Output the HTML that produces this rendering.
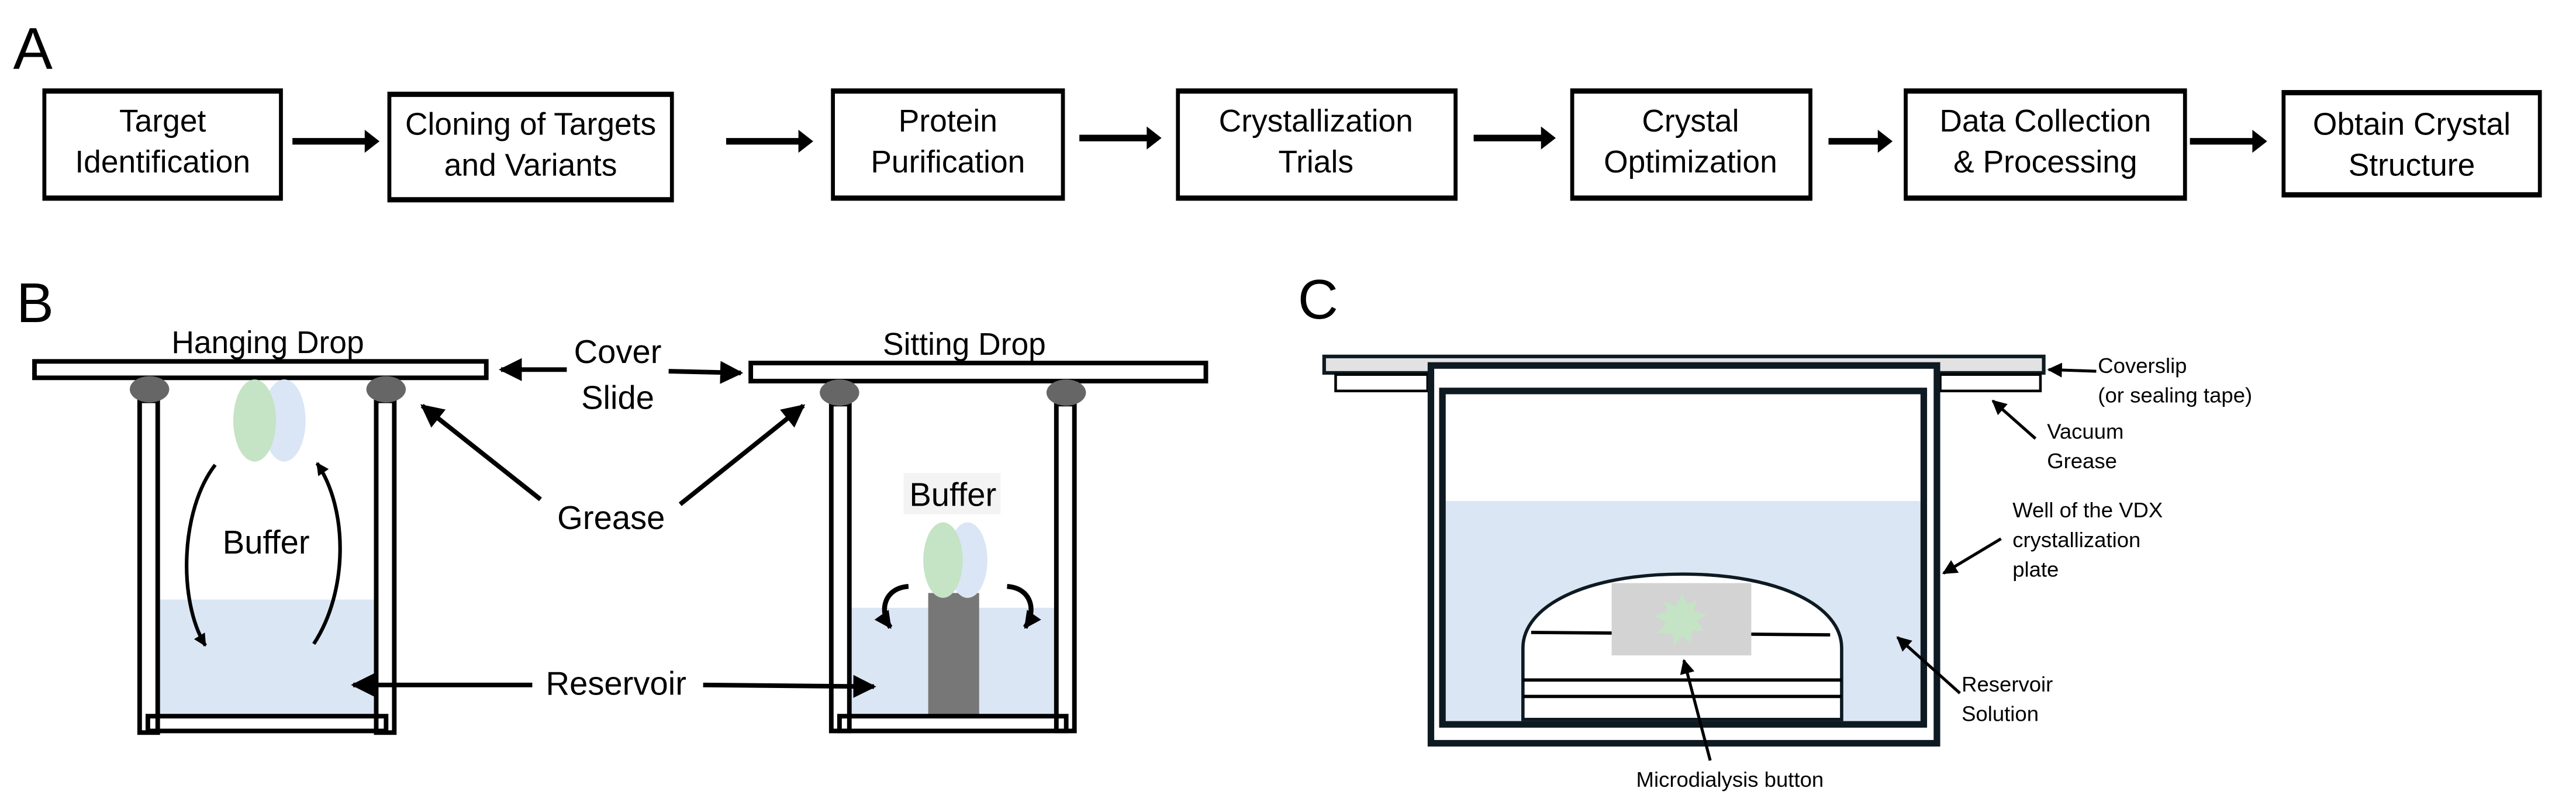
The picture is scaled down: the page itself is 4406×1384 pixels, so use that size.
<!DOCTYPE html>
<html><head><meta charset="utf-8"><style>
html,body{margin:0;padding:0;background:#fff;}
svg{display:block;}
text{font-family:"Liberation Sans",Arial,sans-serif;fill:#000;}
</style></head><body>
<svg width="4406" height="1384" viewBox="0 0 1568 492.5" xmlns="http://www.w3.org/2000/svg">
<defs>
<marker id="as" viewBox="0 0 10 10" refX="9" refY="5" markerWidth="5" markerHeight="5" orient="auto-start-reverse" markerUnits="strokeWidth"><path d="M0,0 L10,5 L0,10 z" fill="#000"/></marker>
<marker id="ac" viewBox="0 0 10 10" refX="9" refY="5" markerWidth="4" markerHeight="3.5" orient="auto" markerUnits="strokeWidth"><path d="M0,0 L10,5 L0,10 z" fill="#000"/></marker>
</defs>
<rect width="1568" height="492.5" fill="#fff"/>

<!-- Panel A -->
<text x="8" y="42" font-size="36">A</text>
<g fill="#fff" stroke="#000" stroke-width="2.4">
<rect x="27" y="55" width="144" height="66"/>
<rect x="237" y="57" width="172" height="65"/>
<rect x="507" y="55" width="140" height="66"/>
<rect x="717" y="55" width="169" height="66"/>
<rect x="957" y="55" width="145" height="66"/>
<rect x="1160" y="55" width="170" height="66"/>
<rect x="1390" y="56" width="156" height="63"/>
</g>
<g fill="#000">
<rect x="27" y="54" width="144" height="3"/><rect x="27" y="119" width="144" height="3"/>
<rect x="237" y="56" width="172" height="3"/><rect x="237" y="120" width="172" height="3"/>
<rect x="507" y="54" width="140" height="3"/><rect x="507" y="119" width="140" height="3"/>
<rect x="717" y="54" width="169" height="3"/><rect x="717" y="119" width="169" height="3"/>
<rect x="957" y="54" width="145" height="3"/><rect x="957" y="119" width="145" height="3"/>
<rect x="1160" y="54" width="170" height="3"/><rect x="1160" y="119" width="170" height="3"/>
<rect x="1390" y="55" width="156" height="3"/><rect x="1390" y="117" width="156" height="3"/>
</g>
<g font-size="19" text-anchor="middle">
<text x="99" y="80">Target</text><text x="99" y="105">Identification</text>
<text x="323" y="82">Cloning of Targets</text><text x="323" y="107">and Variants</text>
<text x="577" y="80">Protein</text><text x="577" y="105">Purification</text>
<text x="801" y="80">Crystallization</text><text x="801" y="105">Trials</text>
<text x="1029" y="80">Crystal</text><text x="1029" y="105">Optimization</text>
<text x="1245" y="80">Data Collection</text><text x="1245" y="105">&amp; Processing</text>
<text x="1468" y="82">Obtain Crystal</text><text x="1468" y="107">Structure</text>
</g>
<g fill="#000">
<path d="M178,84 h44 v-5 l9,7 l-9,7 v-5 h-44z"/>
<path d="M442,84 h44 v-5 l9,7 l-9,7 v-5 h-44z"/>
<path d="M657,82 h41 v-5 l9,7 l-9,7 v-5 h-41z"/>
<path d="M897,82 h41 v-5 l9,7 l-9,7 v-5 h-41z"/>
<path d="M1113,84 h30 v-5 l9,7 l-9,7 v-5 h-30z"/>
<path d="M1333,84 h38 v-5 l9,7 l-9,7 v-5 h-38z"/>
</g>

<!-- Panel B -->
<text x="10" y="196" font-size="34">B</text>
<rect x="96" y="365" width="132" height="72" fill="#dbe6f4"/>
<g fill="none" stroke="#000" stroke-width="2.8">
<rect x="21" y="220" width="275" height="10"/>
<rect x="85" y="244" width="11" height="202"/>
<rect x="229" y="244" width="11" height="202"/>
<rect x="90" y="436" width="145" height="9"/>
</g>
<ellipse cx="91" cy="237" rx="12" ry="8" fill="#666"/>
<ellipse cx="235" cy="237" rx="12" ry="8" fill="#666"/>
<ellipse cx="173" cy="256" rx="13" ry="25" fill="#dae6f6"/>
<ellipse cx="155" cy="256" rx="13" ry="25" fill="#c5e3c5"/>
<path d="M131,283 C110,310 108,365 125,393" fill="none" stroke="#000" stroke-width="2.2" marker-end="url(#ac)"/>
<path d="M191,392 C212,360 212,310 193,282" fill="none" stroke="#000" stroke-width="2.2" marker-end="url(#ac)"/>
<text x="163" y="215" font-size="19" text-anchor="middle">Hanging Drop</text>
<text x="162" y="337" font-size="20" text-anchor="middle">Buffer</text>

<rect x="517" y="370" width="126" height="66" fill="#dbe6f4"/>
<rect x="565" y="361" width="31" height="75" fill="#777"/>
<g fill="none" stroke="#000" stroke-width="2.8">
<rect x="457" y="221" width="277" height="11"/>
<rect x="506" y="246" width="11" height="199"/>
<rect x="643" y="246" width="11" height="199"/>
<rect x="511" y="436" width="138" height="9"/>
</g>
<ellipse cx="511" cy="239" rx="12" ry="8" fill="#666"/>
<ellipse cx="649" cy="239" rx="12" ry="8" fill="#666"/>
<ellipse cx="589" cy="341" rx="12" ry="23" fill="#dae6f6"/>
<ellipse cx="574" cy="341" rx="12" ry="23" fill="#c5e3c5"/>
<rect x="550" y="288" width="59" height="25" fill="#f3f3f3"/>
<text x="580" y="308" font-size="20" text-anchor="middle">Buffer</text>
<text x="587" y="216" font-size="19" text-anchor="middle">Sitting Drop</text>
<path d="M553,357 C538,358 535,372 542,382" fill="none" stroke="#000" stroke-width="3" marker-end="url(#ac)"/>
<path d="M613,357 C628,358 631,372 624,382" fill="none" stroke="#000" stroke-width="3" marker-end="url(#ac)"/>

<text x="376" y="221" font-size="20" text-anchor="middle">Cover</text>
<text x="376" y="249" font-size="20" text-anchor="middle">Slide</text>
<text x="372" y="322" font-size="20" text-anchor="middle">Grease</text>
<text x="375" y="423" font-size="20" text-anchor="middle">Reservoir</text>
<g stroke="#000" stroke-width="2.8" fill="none">
<line x1="345" y1="225" x2="305" y2="225" marker-end="url(#as)"/>
<line x1="407" y1="226" x2="451" y2="227" marker-end="url(#as)"/>
<line x1="329" y1="304" x2="257" y2="247" marker-end="url(#as)"/>
<line x1="414" y1="307" x2="489" y2="247" marker-end="url(#as)"/>
<line x1="324" y1="417" x2="215" y2="417" marker-end="url(#as)"/>
<line x1="428" y1="417" x2="532" y2="418" marker-end="url(#as)"/>
</g>

<!-- Panel C -->
<text x="790" y="194" font-size="34">C</text>
<rect x="806" y="217" width="438" height="10" fill="#e2e2e2" stroke="#0d1a22" stroke-width="2.2"/>
<rect x="813" y="228" width="56" height="10" fill="#fff" stroke="#000" stroke-width="1.6"/>
<rect x="1181" y="228" width="61" height="10" fill="#fff" stroke="#000" stroke-width="1.6"/>
<rect x="871" y="222.5" width="308" height="230" fill="#fff" stroke="#0d1a22" stroke-width="4"/>
<rect x="878" y="305" width="293" height="136" fill="#dbe6f4"/>
<rect x="878" y="238" width="293" height="203" fill="none" stroke="#0d1a22" stroke-width="4"/>
<path d="M927,438 V394.5 C927,369 965,349.5 1024,349.5 C1083,349.5 1121,369 1121,394.5 V438 Z" fill="#fff" stroke="#0d1a22" stroke-width="2"/>
<line x1="932" y1="385" x2="1114" y2="386.5" stroke="#000" stroke-width="2"/>
<line x1="927" y1="414" x2="1121" y2="414" stroke="#000" stroke-width="2"/>
<line x1="927" y1="424" x2="1121" y2="424" stroke="#000" stroke-width="2"/>
<rect x="981" y="355" width="85" height="44" fill="#d3d3d3"/>
<path d="M1024,361 L1027,368 L1033,365 L1031,372 L1039,374 L1033,378 L1037,384 L1030,384 L1029,392 L1024,387 L1019,393 L1018,386 L1009,385 L1014,379 L1007,375 L1015,372 L1013,366 L1020,369 Z" fill="#c5e3c5"/>
<g font-size="13">
<text x="1277" y="227">Coverslip</text>
<text x="1277" y="245">(or sealing tape)</text>
<text x="1246" y="267">Vacuum</text>
<text x="1246" y="285">Grease</text>
<text x="1225" y="315">Well of the VDX</text>
<text x="1225" y="333">crystallization</text>
<text x="1225" y="351">plate</text>
<text x="1194" y="421">Reservoir</text>
<text x="1194" y="439">Solution</text>
<text x="1053" y="479" text-anchor="middle">Microdialysis button</text>
</g>
<g stroke="#000" stroke-width="1.8" fill="none">
<line x1="1276" y1="226" x2="1247" y2="225" marker-end="url(#as)"/>
<line x1="1239" y1="267" x2="1213" y2="244" marker-end="url(#as)"/>
<line x1="1218" y1="328" x2="1183" y2="349" marker-end="url(#as)"/>
<line x1="1193" y1="422" x2="1155" y2="388" marker-end="url(#as)"/>
<line x1="1041" y1="463" x2="1025" y2="402" marker-end="url(#as)"/>
</g>
</svg>
</body></html>
